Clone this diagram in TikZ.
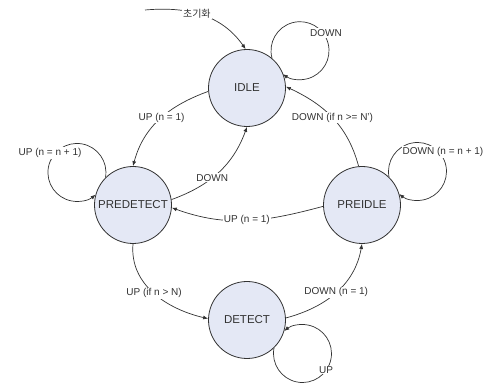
\documentclass[tikz,border=0pt]{standalone}
\usepackage{fontspec}
\setmainfont{Liberation Sans}
\newfontfamily\krfont{Noto Sans CJK KR}
\usetikzlibrary{arrows.meta}
\definecolor{statefill}{RGB}{228,232,245}
\definecolor{ink}{RGB}{50,50,50}
\begin{document}
\begin{tikzpicture}[x=1pt,y=1pt,
  state/.style={circle, draw=ink, line width=0.8pt, fill=statefill,
    minimum size=77pt, inner sep=0pt, font=\fontsize{11.5}{13}\selectfont, text=ink},
  edge/.style={draw=ink, line width=0.7pt, -{Latex[length=5pt,width=4pt]}},
  lbl/.style={fill=white, inner sep=1pt, font=\fontsize{10}{12}\selectfont, text=ink}]
\useasboundingbox (0,0) rectangle (493,385);

% states
\node[state] (idle)      at (247,297) {IDLE};
\node[state] (predetect) at (133,180) {PREDETECT};
\node[state] (preidle)   at (362,180) {PREIDLE};
\node[state] (detect)    at (247,65)  {DETECT};

% initial transition
\coordinate (init) at (145,375);
\draw[edge] (init) to[out=5,in=125] node[lbl,pos=0.45] {\krfont 초기화} (idle.92);

% transitions between states
\draw[edge] (idle.185) to[out=200,in=75] node[lbl,pos=0.48] {UP (n = 1)} (predetect.90);
\draw[edge] (predetect.8) to[out=20,in=-110] node[lbl,pos=0.42] {DOWN} (idle.-90);
\draw[edge] (preidle.182) to[out=195,in=-20] node[lbl,pos=0.5] {UP (n = 1)} (predetect.-4);
\draw[edge] (preidle.95) to[out=105,in=-25] node[lbl,pos=0.5] {DOWN (if n >= N')} (idle.2);
\draw[edge] (predetect.-90) to[out=-95,in=167] node[lbl,pos=0.5] {UP (if n > N)} (detect.178);
\draw[edge] (detect.3) to[out=15,in=-100] node[lbl,pos=0.5] {DOWN (n = 1)} (preidle.-90);

% self loops: circular arcs leaving and re-entering the same state
\draw[edge] (idle.50) arc[start angle=195, end angle=-126, radius=29pt];
\draw[edge] (predetect.135) arc[start angle=-10, end angle=310, radius=29pt];
\draw[edge] (preidle.46) arc[start angle=191, end angle=-129, radius=29pt];
\draw[edge] (detect.-46) arc[start angle=-191, end angle=129, radius=29pt];

% self loop labels
\node[lbl] (lidle)  at (326,352) {DOWN};
\node[lbl] (lpred)  at (50,232)  {UP (n = n + 1)};
\node[lbl] (lpreid) at (443,233) {DOWN (n = n + 1)};
\node[lbl] (ldet)   at (326,15)  {UP};
\end{tikzpicture}
\end{document}
